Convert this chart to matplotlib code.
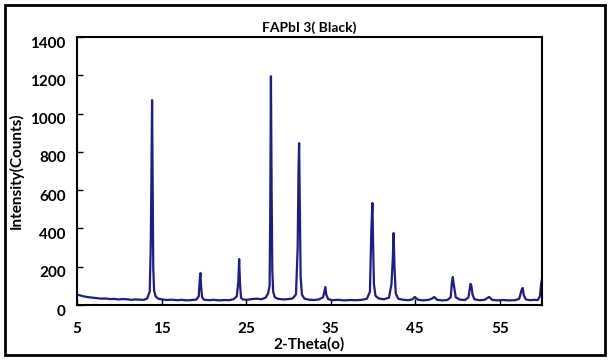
import numpy as np
import matplotlib
matplotlib.use("Agg")
import matplotlib.pyplot as plt
from matplotlib.patches import Rectangle
from matplotlib.transforms import ScaledTranslation

# points (2-theta, counts)
two_theta = [5.0, 5.4, 5.8, 6.3, 6.9, 7.4, 7.9, 8.4, 8.9, 9.4, 9.9, 10.4, 10.9, 11.4, 11.9,
             12.4, 12.9, 13.3, 13.6, 13.72, 13.8, 13.88, 13.95, 14.02, 14.12, 14.3, 14.6, 15.1,
             15.6, 16.2, 16.8, 17.4, 18.0, 18.6, 19.1, 19.4, 19.53, 19.6, 19.68, 19.8, 20.0,
             20.6, 21.2, 21.8, 22.4, 23.0, 23.5, 23.9, 24.08, 24.18, 24.28, 24.4, 24.6,
             25.1, 25.7, 26.3, 26.8, 27.3, 27.6, 27.78, 27.86, 27.94, 28.02, 28.1, 28.2,
             28.4, 28.8, 29.4, 30.0, 30.5, 30.9, 31.1, 31.2, 31.27, 31.35, 31.45, 31.6,
             31.9, 32.4, 33.0, 33.6, 34.1, 34.3, 34.38, 34.48, 34.7, 35.2, 35.9, 36.6,
             37.3, 38.0, 38.7, 39.3, 39.65, 39.82, 39.94, 40.02, 40.12, 40.3, 40.7,
             41.3, 41.9, 42.2, 42.36, 42.45, 42.55, 42.7, 43.0, 43.6, 44.2, 44.7, 44.95,
             45.3, 45.9, 46.6, 47.05, 47.25, 47.6, 48.2, 48.8, 49.2, 49.35, 49.45, 49.55,
             49.8, 50.3, 50.9, 51.3, 51.55, 51.65, 51.78, 52.0, 52.6, 53.2, 53.6, 53.75,
             54.1, 54.7, 55.4, 56.1, 56.8, 57.3, 57.6, 57.72, 57.85, 58.1, 58.6, 59.1,
             59.5, 59.75, 59.9, 60.0]
counts = [54, 50, 45, 41, 38, 36, 33, 34, 31, 32, 29, 31, 30, 27, 29,
          28, 27, 34, 70, 300, 650, 1070, 620, 190, 75, 45, 33, 29,
          26, 28, 25, 27, 24, 26, 28, 45, 140, 167, 95, 40, 28,
          25, 27, 24, 26, 25, 30, 45, 120, 240, 110, 38, 29,
          27, 31, 33, 30, 38, 60, 100, 500, 1195, 600, 180, 70,
          40, 32, 29, 31, 34, 55, 300, 700, 846, 520, 150, 55,
          33, 28, 26, 29, 40, 80, 94, 55, 31, 25, 27, 24,
          26, 25, 27, 33, 70, 400, 533, 330, 110, 48, 34,
          30, 38, 110, 250, 376, 200, 60, 33, 27, 25, 30, 42,
          28, 24, 27, 35, 42, 27, 24, 26, 40, 120, 146, 110,
          40, 28, 26, 40, 110, 100, 55, 30, 25, 27, 38, 42,
          27, 24, 26, 24, 25, 32, 80, 89, 50, 29, 25, 27,
          26, 45, 110, 136]

x_ticks = [5, 15, 25, 35, 45, 55]
y_ticks = [0, 200, 400, 600, 800, 1000, 1200, 1400]

plt.rcParams['font.family'] = ['Lato', 'DejaVu Sans']
plt.rcParams['font.weight'] = 'bold'

fig = plt.figure(figsize=(6.15, 3.6), dpi=100)
ax = fig.add_axes([77/615, 55/360, 465/615, 268/360])

ax.plot(two_theta, counts, color='#1c1c8a', lw=1.6)

ax.set_xlim(5, 60)
ax.set_ylim(0, 1400)
ax.set_xticks(x_ticks)
ax.set_yticks(y_ticks)
ax.tick_params(direction='in', length=4, width=1, labelsize=11)
ax.tick_params(axis='x', pad=12)
ax.tick_params(axis='y', pad=8)
for lab in ax.get_yticklabels():
    lab.set_fontweight('bold')
    lab.set_transform(lab.get_transform() + ScaledTranslation(0, -5/100, fig.dpi_scale_trans))
for lab in ax.get_xticklabels():
    lab.set_fontweight('bold')
for s in ax.spines.values():
    s.set_linewidth(1.5)

ax.set_title('FAPbI 3( Black)', fontsize=10, fontweight='bold', pad=4)
ax.set_ylabel('Intensity(Counts)', fontsize=11, fontweight='bold', labelpad=5)
ax.set_xlabel('2-Theta(o)', fontsize=11, fontweight='bold', labelpad=1)

# frame around the whole chart
fig.patches.append(Rectangle((5/615, 5/360), 600/615, 350/360, transform=fig.transFigure,
                             fill=False, edgecolor='black', lw=2))

fig.savefig('out.png', dpi=100)
